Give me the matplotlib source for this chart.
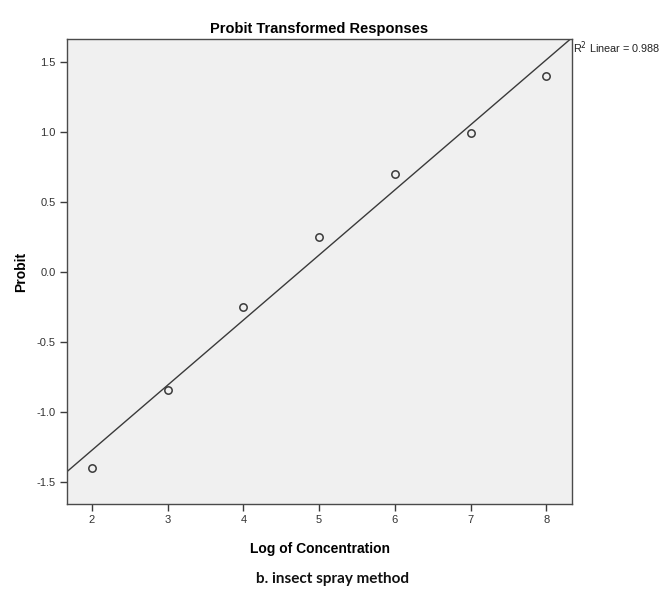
import numpy as np
import matplotlib
matplotlib.use("Agg")
import matplotlib.pyplot as plt

# data
log_conc = [2, 3, 4, 5, 6, 7, 8]
probit = [-1.40, -0.84, -0.25, 0.25, 0.70, 0.99, 1.40]
x_ticks = [2, 3, 4, 5, 6, 7, 8]
y_ticks = [-1.5, -1.0, -0.5, 0.0, 0.5, 1.0, 1.5]
r2_text = "R$^2$ Linear = 0.988"

plt.rcParams["font.family"] = ["Liberation Sans", "DejaVu Sans"]

fig = plt.figure(figsize=(6.66, 5.89), dpi=100)
ax = fig.add_axes([0.1006, 0.1443, 0.7583, 0.7895])
ax.set_facecolor("#F0F0F0")

xlim = (1.67, 8.34)
ylim = (-1.657, 1.664)

# linear fit across the whole x range
slope, icpt = np.polyfit(log_conc, probit, 1)
xs = np.array(xlim)
ax.plot(xs, slope * xs + icpt, color="#3a3a3a", lw=1.0, zorder=2)

ax.plot(log_conc, probit, linestyle="none", marker="o", markersize=5.3,
        markerfacecolor="none", markeredgecolor="#3a3a3a", markeredgewidth=1.1, zorder=3)

ax.set_xlim(*xlim)
ax.set_ylim(*ylim)
ax.set_xticks(x_ticks)
ax.set_yticks(y_ticks)
ax.set_xticklabels([str(v) for v in x_ticks])
ax.set_yticklabels([f"{v:.1f}" for v in y_ticks])
ax.tick_params(direction="out", length=5, width=1, color="#3a3a3a",
               labelsize=8, labelcolor="#333333", pad=3)
for s in ax.spines.values():
    s.set_color("#4a4a4a")
    s.set_linewidth(1.0)

ax.set_title("Probit Transformed Responses", fontsize=10.5, fontweight="bold", pad=4)
ax.set_xlabel("Log of Concentration", fontsize=10, fontweight="bold", labelpad=12)
ax.set_ylabel("Probit", fontsize=10, fontweight="bold", labelpad=6)

ax.text(1.002, 0.982, r2_text, transform=ax.transAxes, fontsize=7.8,
        ha="left", va="center", color="#222222")

fig.text(0.5, 0.017, "b. insect spray method", ha="center", va="center",
         fontsize=11, fontweight="bold", family=["Lato", "DejaVu Sans"], color="#111111")

fig.savefig("out.png", dpi=100)
